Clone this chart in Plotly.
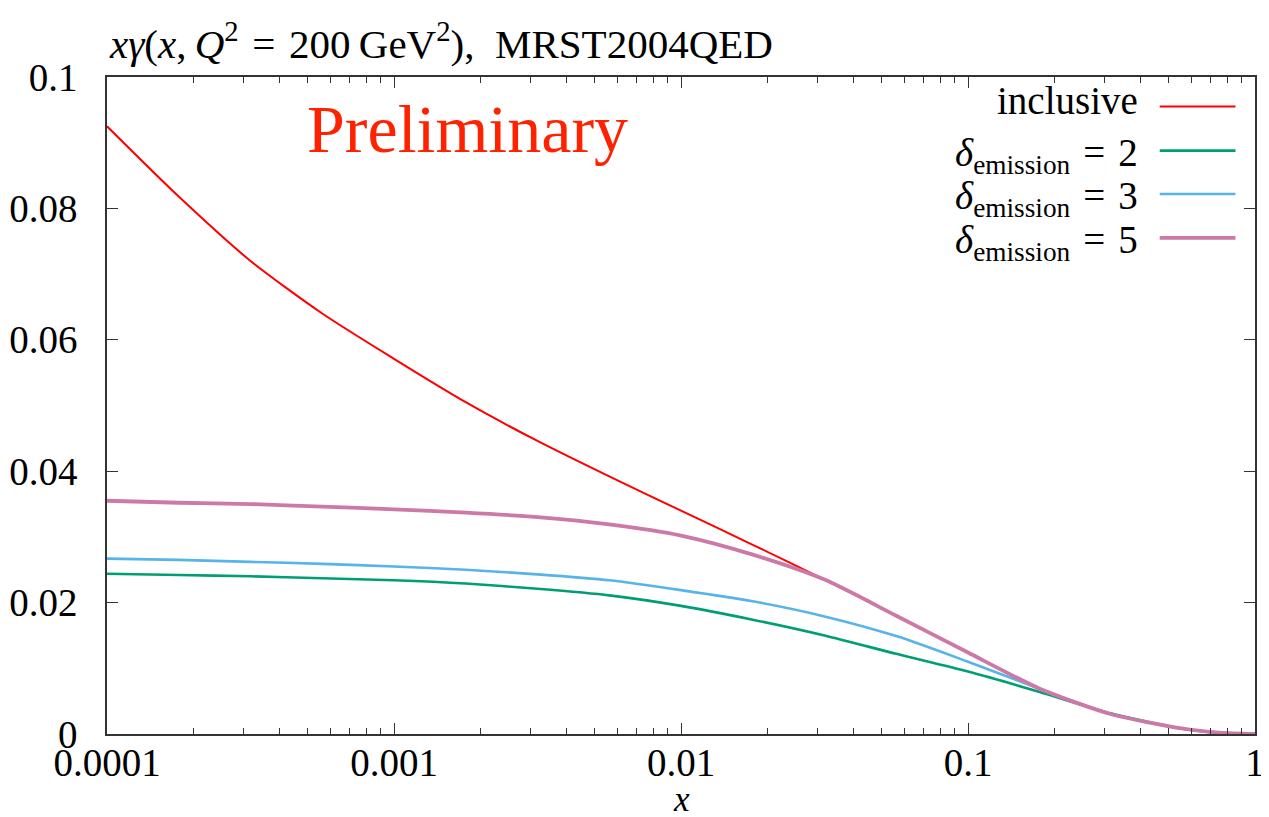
import plotly.graph_objects as go

# ---- data ----
x_vals = [1e-4, 1.778e-4, 3.162e-4, 5.623e-4, 1e-3, 1.778e-3, 3.162e-3, 5.623e-3,
          1e-2, 1.778e-2, 3.162e-2, 5.623e-2, 0.1, 0.1778, 0.3162, 0.5623, 0.75, 1.0]
inclusive = [0.0925, 0.0818, 0.0720, 0.0640, 0.0571, 0.0505, 0.0446, 0.0392,
             0.0340, 0.0288, 0.0235, 0.0180, 0.0124, 0.0069, 0.0030, 0.0008, 0.0002, 0.0]
delta2 = [0.0244, 0.0242, 0.0240, 0.0237, 0.0234, 0.0229, 0.0221, 0.0211,
          0.0195, 0.0174, 0.0150, 0.0122, 0.0095, 0.0064, 0.0031, 0.0008, 0.0002, 0.0]
delta3 = [0.0267, 0.0265, 0.0262, 0.0259, 0.0255, 0.0250, 0.0243, 0.0234,
          0.0219, 0.0202, 0.0179, 0.0149, 0.0110, 0.0069, 0.0030, 0.0008, 0.0002, 0.0]
delta5 = [0.0355, 0.0352, 0.0350, 0.0346, 0.0342, 0.0337, 0.0330, 0.0319,
          0.0302, 0.0273, 0.0235, 0.0180, 0.0124, 0.0069, 0.0030, 0.0008, 0.0002, 0.0]

EQ = "\u2004=\u2004"
series_names = ["inclusive",
                "<i>δ</i><sub>emission</sub>" + EQ + "2",
                "<i>δ</i><sub>emission</sub>" + EQ + "3",
                "<i>δ</i><sub>emission</sub>" + EQ + "5"]
series_vals = [inclusive, delta2, delta3, delta5]
series_colors = ["#ff0000", "#009e73", "#56b4e9", "#cc79a7"]
series_widths = [2, 2.6, 2.6, 3.8]

x_tickvals = [1e-4, 1e-3, 1e-2, 1e-1, 1]
x_ticktext = ["0.0001", "0.001", "0.01", "0.1", "1"]
x_minor = [m * 10.0 ** e for e in range(-4, 0) for m in range(2, 10)]
y_tickvals = [0, 0.02, 0.04, 0.06, 0.08, 0.1]
y_ticktext = ["0", "0.02", "0.04", "0.06", "0.08", "0.1"]

FONT = "Liberation Serif"

fig = go.Figure()
for name, vals, col, w in zip(series_names, series_vals, series_colors, series_widths):
    fig.add_trace(go.Scatter(x=x_vals, y=vals, mode="lines", name=name,
                             line=dict(color=col, width=w, shape="spline", smoothing=0.7),
                             showlegend=False))

# gnuplot-like key: right-aligned text, line sample to its right
key_y = [0.955, 0.888, 0.822, 0.755]
for name, col, w, ky in zip(series_names, series_colors, series_widths, key_y):
    fig.add_annotation(xref="paper", yref="paper", x=0.900, y=ky, text=name,
                       showarrow=False, xanchor="right", yanchor="middle",
                       yshift=(-5 if "sub" in name else 6),
                       font=dict(family=FONT, size=39, color="black"))
    fig.add_shape(type="line", xref="paper", yref="paper", x0=0.917, x1=0.983,
                  y0=ky, y1=ky, line=dict(color=col, width=w))

fig.add_annotation(xref="paper", yref="paper", x=0.0, y=1.0, yshift=36,
                   text="<i>xγ</i>(<i>x</i>,\u2009<i>Q</i><sup>2</sup>" + EQ +
                        "200\u2009GeV<sup>2</sup>),\u2002MRST2004QED",
                   showarrow=False, xanchor="left", yanchor="middle",
                   font=dict(family=FONT, size=41, color="black"))

fig.add_annotation(xref="paper", yref="paper", x=0.314, y=0.921,
                   text="Preliminary", showarrow=False, xanchor="center", yanchor="middle",
                   font=dict(family=FONT, size=68, color="#ff2200"))

fig.add_annotation(xref="paper", yref="paper", x=0.5, y=-0.099,
                   text="<i>x</i>", showarrow=False, xanchor="center", yanchor="middle",
                   font=dict(family=FONT, size=35, color="black"))

# the page body adds an 8px offset, so margins are shifted to land the frame
# at x 107..1255 and y 77..734 in the screenshot
fig.update_layout(
    width=1269, height=817,
    margin=dict(l=99, r=22, t=69, b=91, autoexpand=False),
    paper_bgcolor="white", plot_bgcolor="white",
    font=dict(family=FONT, size=38, color="black"),
    xaxis=dict(type="log", range=[-4, 0], tickvals=x_tickvals, ticktext=x_ticktext,
               automargin=False,
               ticks="inside", ticklen=11, tickwidth=1.2, tickcolor="#333",
               showline=True, linecolor="#333", linewidth=1.5, mirror="allticks",
               showgrid=False, zeroline=False, ticklabelstandoff=-7,
               minor=dict(tickmode="array", tickvals=x_minor, ticks="inside", ticklen=6,
                          tickwidth=1, tickcolor="#333", showgrid=False),
               tickfont=dict(family=FONT, size=39)),
    yaxis=dict(range=[0, 0.1], tickvals=y_tickvals, ticktext=y_ticktext,
               automargin=False,
               ticks="inside", ticklen=11, tickwidth=1.2, tickcolor="#333",
               showline=True, linecolor="#333", linewidth=1.5, mirror="allticks",
               showgrid=False, zeroline=False, ticklabelstandoff=20,
               tickfont=dict(family=FONT, size=39)),
)

fig.write_html("out.html")
